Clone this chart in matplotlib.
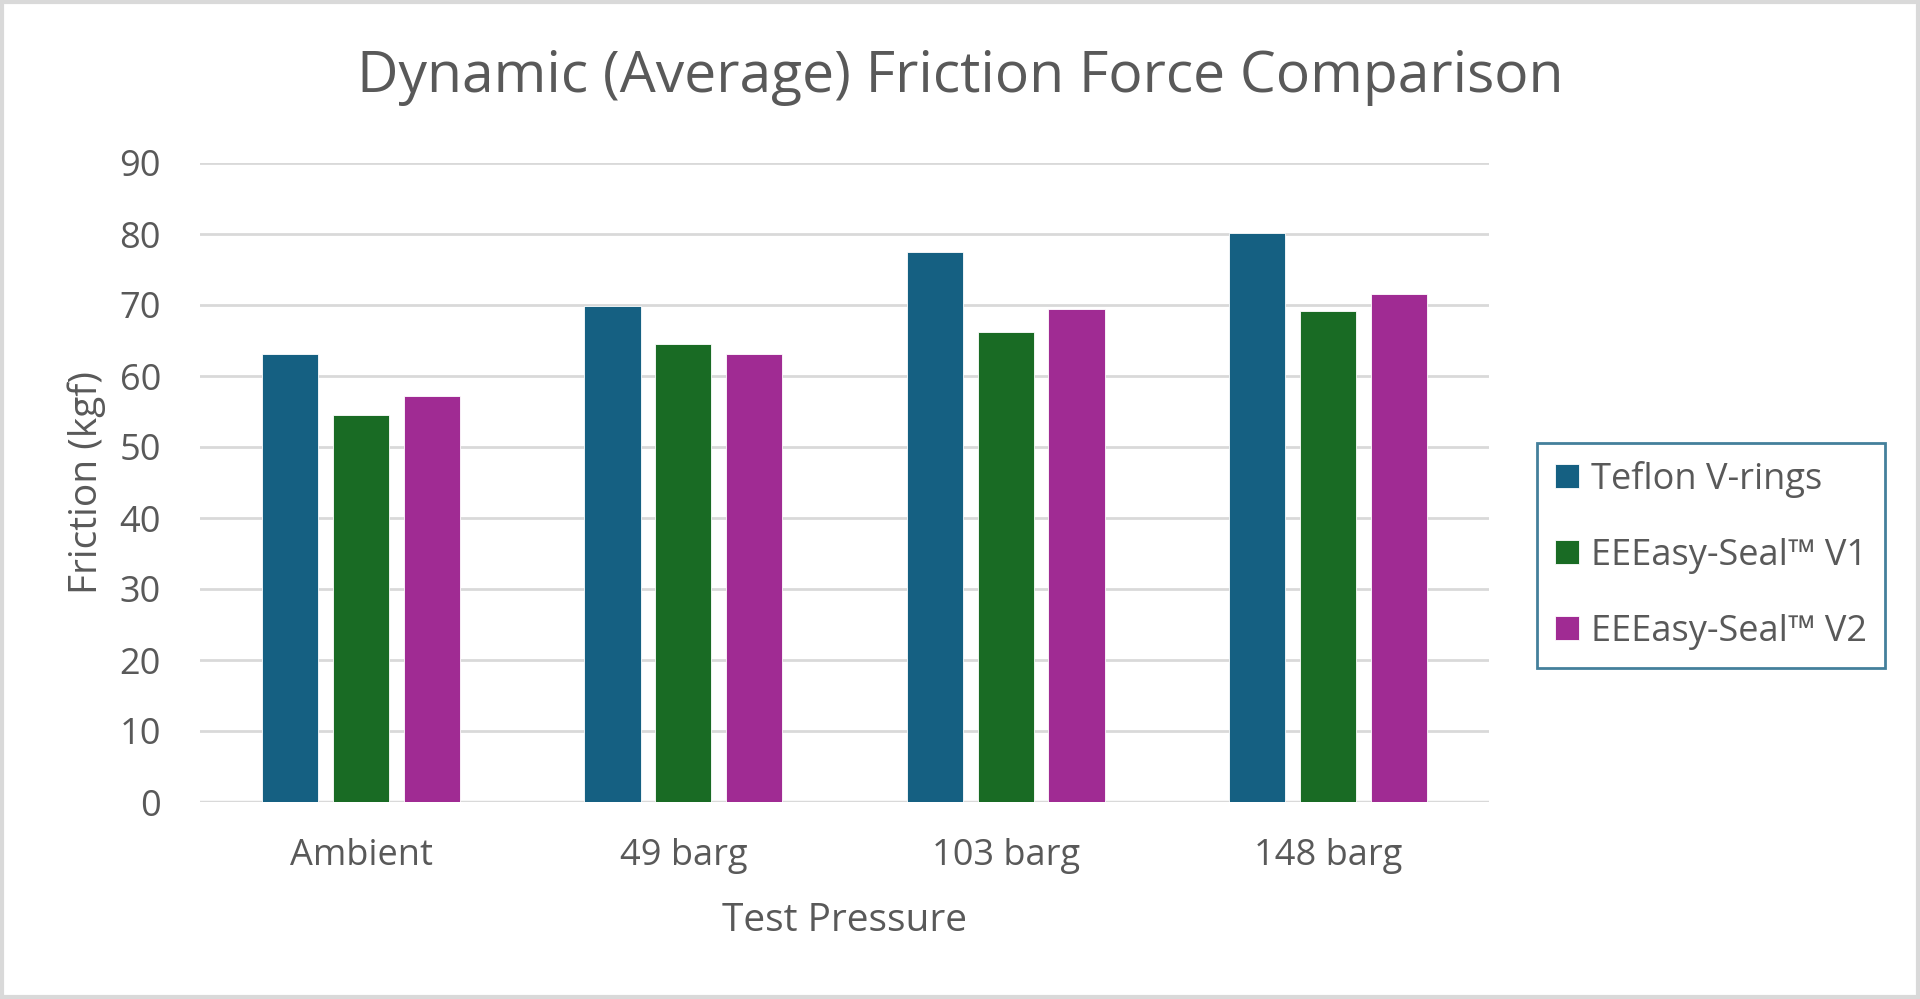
import matplotlib
matplotlib.use("Agg")
import matplotlib.pyplot as plt
import numpy as np

plt.rcParams['font.family'] = ['Open Sans', 'DejaVu Sans']

# data
categories = ["Ambient", "49 barg", "103 barg", "148 barg"]
series_names = ["Teflon V-rings", "EEEasy-Seal\u2122 V1", "EEEasy-Seal\u2122 V2"]
teflon = [63.1, 69.9, 77.5, 80.1]
seal_v1 = [54.5, 64.5, 66.2, 69.2]
seal_v2 = [57.2, 63.1, 69.5, 71.5]
colors = ["#156082", "#196B24", "#A02B93"]

txt = "#595959"
grid_c = "#D9D9D9"

fig = plt.figure(figsize=(19.2, 9.99), dpi=100)
ax = fig.add_axes([200/1920, 1-802/999, 1289/1920, 639/999])

x = np.arange(len(categories))
width = 0.174
step = 0.22
for i, (vals, name, c) in enumerate(zip([teflon, seal_v1, seal_v2], series_names, colors)):
    ax.bar(x + (i - 1) * step, vals, width, color=c, label=name,
           edgecolor="white", linewidth=0.6, zorder=3)

ax.set_xlim(-0.5, len(categories) - 0.5)
ax.set_ylim(0, 90)
ax.set_yticks(range(0, 91, 10))
ax.yaxis.grid(True, color=grid_c, linewidth=2, zorder=0)
ax.set_axisbelow(True)
for s in ax.spines.values():
    s.set_visible(False)
ax.axhline(0, color=grid_c, linewidth=2.5, zorder=2)

ax.set_xticks(x)
ax.set_xticklabels(categories)
ax.tick_params(axis="both", length=0, labelsize=26, labelcolor=txt)
ax.tick_params(axis="y", pad=28)
ax.tick_params(axis="x", pad=26)

ax.set_ylabel("Friction (kgf)", fontsize=28, color=txt, labelpad=10)
ax.set_xlabel("Test Pressure", fontsize=28, color=txt, labelpad=20)

fig.text(0.5, 1 - 78/999, "Dynamic (Average) Friction Force Comparison",
         ha="center", va="center", fontsize=41, color=txt)

leg = fig.legend(loc="upper left", bbox_to_anchor=(1537/1920, 1 - 443/999),
                 fontsize=26, frameon=True, fancybox=False, labelcolor=txt,
                 handlelength=0.65, handleheight=0.65, handletextpad=0.35,
                 labelspacing=1.1, borderpad=0.5, borderaxespad=0)
leg.get_frame().set_edgecolor("#156082")
leg.get_frame().set_linewidth(2)

# outer border
fig.patches.append(plt.Rectangle((0.001, 0.002), 0.998, 0.996, transform=fig.transFigure,
                                 fill=False, edgecolor="#D9D9D9", linewidth=3))

fig.savefig("out.png", dpi=100, facecolor="white")
